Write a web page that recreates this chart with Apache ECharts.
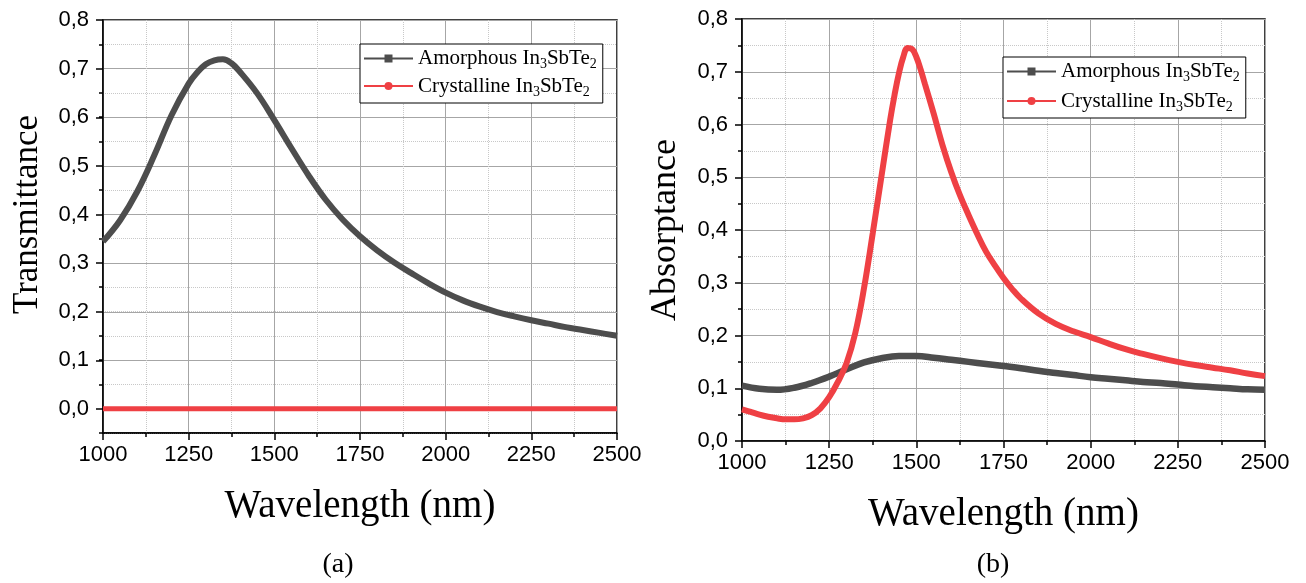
<!DOCTYPE html>
<html><head><meta charset="utf-8">
<script src="https://cdn.jsdelivr.net/npm/echarts@6/dist/echarts.min.js"></script>
<style>html,body{margin:0;padding:0;background:#fff}#c{width:1306px;height:583px}</style>
</head><body><div id="c"></div>
<script>
// ---------- data ----------
const seriesNames = ['Amorphous In3SbTe2', 'Crystalline In3SbTe2'];
const xTickLabels = [1000, 1250, 1500, 1750, 2000, 2250, 2500];

// (a) Transmittance
const transAmorphWl = [1000,1050,1100,1150,1200,1250,1275,1300,1325,1350,1375,1400,1450,1500,1550,1600,1650,1700,1750,1800,1850,1900,1950,2000,2050,2100,2150,2200,2250,2300,2350,2400,2450,2500];
const transAmorphVal = [0.344,0.388,0.447,0.522,0.604,0.669,0.692,0.709,0.717,0.719,0.711,0.693,0.649,0.594,0.536,0.480,0.430,0.389,0.355,0.326,0.301,0.279,0.258,0.239,0.223,0.210,0.199,0.190,0.182,0.175,0.168,0.162,0.156,0.150];
const transCrystWl = [1000,1250,1500,1750,2000,2250,2500];
const transCrystVal = [0,0,0,0,0,0,0];

// (b) Absorptance
const absAmorphWl = [1000,1050,1100,1150,1200,1250,1300,1350,1400,1450,1500,1550,1600,1650,1700,1750,1800,1850,1900,1950,2000,2050,2100,2150,2200,2250,2300,2350,2400,2450,2500];
const absAmorphVal = [0.105,0.099,0.097,0.101,0.110,0.122,0.136,0.149,0.157,0.161,0.161,0.158,0.154,0.150,0.146,0.142,0.138,0.133,0.129,0.125,0.121,0.118,0.115,0.112,0.110,0.107,0.104,0.102,0.100,0.098,0.097];
const absCrystWl = [1000,1025,1050,1075,1100,1125,1150,1175,1200,1225,1250,1275,1300,1325,1350,1375,1400,1425,1437.5,1450,1462.5,1475,1487.5,1500,1512.5,1525,1550,1575,1600,1625,1650,1675,1700,1725,1750,1775,1800,1850,1900,1950,2000,2050,2100,2150,2200,2250,2300,2350,2400,2450,2500];
const absCrystVal = [0.060,0.055,0.050,0.046,0.043,0.041,0.041,0.043,0.049,0.062,0.083,0.112,0.148,0.205,0.290,0.394,0.502,0.609,0.656,0.697,0.728,0.745,0.743,0.728,0.704,0.676,0.620,0.561,0.510,0.466,0.428,0.392,0.359,0.333,0.309,0.288,0.270,0.242,0.222,0.208,0.197,0.185,0.174,0.165,0.157,0.150,0.144,0.139,0.134,0.128,0.123];

// ---------- styling ----------
const SANS = '"Liberation Sans", Arial, sans-serif';
const SERIF = '"Liberation Serif", "Times New Roman", serif';
const GRAY = '#4d4d4d';
const RED = '#ef4044';
const zip = (a, b) => a.map((v, i) => [v, b[i]]);
const fmtY = v => v.toFixed(1).replace('.', ',');
const fmtX = v => String(v);
const legendFmt = name => name.split(/(\d)/).filter(p => p).map(p => /^\d$/.test(p) ? '{s|' + p + '}' : '{n|' + p + '}').join('');

const axisLineStyle = { color: '#000', width: 1.5 };
const majorSplit = { show: true, lineStyle: { color: '#a6a6a6', width: 1 } };
const minorSplit = { show: true, lineStyle: { color: '#c8c8c8', width: 1, type: 'dotted' } };
const labelStyle = { color: '#000', fontSize: 22, fontFamily: SANS };

function xAxisDef(gridIndex) {
  return {
    gridIndex, type: 'value', min: xTickLabels[0], max: xTickLabels[xTickLabels.length - 1], interval: 250,
    axisLine: { show: true, onZero: false, lineStyle: axisLineStyle },
    axisTick: { show: true, length: 7, lineStyle: axisLineStyle },
    minorTick: { show: true, splitNumber: 2, length: 4, lineStyle: axisLineStyle },
    splitLine: majorSplit, minorSplitLine: minorSplit,
    axisLabel: Object.assign({ margin: 11, formatter: fmtX }, labelStyle),
    name: 'Wavelength (nm)', nameLocation: 'middle', nameGap: 54,
    nameTextStyle: { fontFamily: SERIF, fontSize: 39, color: '#000' }
  };
}

function legendDef(left, top, gap) {
  return {
    orient: 'vertical', left, top, itemWidth: 49, itemHeight: 10, itemGap: gap,
    padding: [4, 6, 4, 3], borderColor: '#000', borderWidth: 1, backgroundColor: '#fff',
    selectedMode: false, data: seriesNames, formatter: legendFmt,
    lineStyle: { width: 2 },
    textStyle: {
      rich: {
        n: { fontSize: 21, fontFamily: SERIF, color: '#000', lineHeight: 26 },
        s: { fontSize: 14, fontFamily: SERIF, color: '#000', lineHeight: 12, verticalAlign: 'bottom' }
      }
    }
  };
}

function lineSeries(name, color, symbol, xi, yi, data, width) {
  return {
    type: 'line', name, xAxisIndex: xi, yAxisIndex: yi, data, smooth: 0.4,
    symbol, symbolSize: 7, showSymbol: false, clip: true,
    lineStyle: { color, width }, itemStyle: { color }, emphasis: { disabled: true }, z: 3
  };
}

const option = {
  animation: false,
  backgroundColor: '#fff',
  grid: [
    { left: 103, top: 20, width: 514, height: 413, show: true, borderColor: '#000', borderWidth: 1.5, backgroundColor: 'transparent' },
    { left: 103, top: 20, width: 514, height: 389, show: false },
    { left: 742, top: 19, width: 523, height: 422, show: true, borderColor: '#000', borderWidth: 1.5, backgroundColor: 'transparent' }
  ],
  xAxis: [
    xAxisDef(0),
    { gridIndex: 1, type: 'value', min: 1000, max: 2500, show: false },
    xAxisDef(2)
  ],
  yAxis: [
    { gridIndex: 0, type: 'value', min: -0.05, max: 0.8, interval: 0.05,
      axisLine: { show: true, onZero: false, lineStyle: axisLineStyle },
      axisTick: { show: true, length: 4, lineStyle: axisLineStyle },
      axisLabel: { show: false }, splitLine: minorSplit },
    { gridIndex: 1, type: 'value', min: 0, max: 0.8, interval: 0.1,
      axisLine: { show: false },
      axisTick: { show: true, length: 7, lineStyle: axisLineStyle },
      axisLabel: Object.assign({ margin: 14, formatter: fmtY }, labelStyle),
      splitLine: majorSplit,
      name: 'Transmittance', nameLocation: 'middle', nameGap: 58,
      nameTextStyle: { fontFamily: SERIF, fontSize: 35, color: '#000' } },
    { gridIndex: 2, type: 'value', min: 0, max: 0.8, interval: 0.1,
      axisLine: { show: true, onZero: false, lineStyle: axisLineStyle },
      axisTick: { show: true, length: 7, lineStyle: axisLineStyle },
      minorTick: { show: true, splitNumber: 2, length: 4, lineStyle: axisLineStyle },
      axisLabel: Object.assign({ margin: 14, formatter: fmtY }, labelStyle),
      splitLine: majorSplit, minorSplitLine: minorSplit,
      name: 'Absorptance', nameLocation: 'middle', nameGap: 58,
      nameTextStyle: { fontFamily: SERIF, fontSize: 36, color: '#000' } }
  ],
  legend: [ legendDef(360, 44, 4), legendDef(1003, 57, 6) ],
  graphic: [
    { type: 'text', style: { text: '(a)', x: 338, y: 565, fontFamily: SERIF, fontSize: 28, fill: '#000', align: 'center', verticalAlign: 'middle' } },
    { type: 'text', style: { text: '(b)', x: 993, y: 565, fontFamily: SERIF, fontSize: 28, fill: '#000', align: 'center', verticalAlign: 'middle' } }
  ],
  series: [
    lineSeries(seriesNames[0], GRAY, 'rect', 0, 0, zip(transAmorphWl, transAmorphVal), 6),
    lineSeries(seriesNames[1], RED, 'circle', 0, 0, zip(transCrystWl, transCrystVal), 5),
    lineSeries(seriesNames[0], GRAY, 'rect', 2, 2, zip(absAmorphWl, absAmorphVal), 6.5),
    lineSeries(seriesNames[1], RED, 'circle', 2, 2, zip(absCrystWl, absCrystVal), 6)
  ]
};

const chart = echarts.init(document.getElementById('c'), null, { renderer: 'canvas' });
chart.setOption(option);
</script></body></html>
